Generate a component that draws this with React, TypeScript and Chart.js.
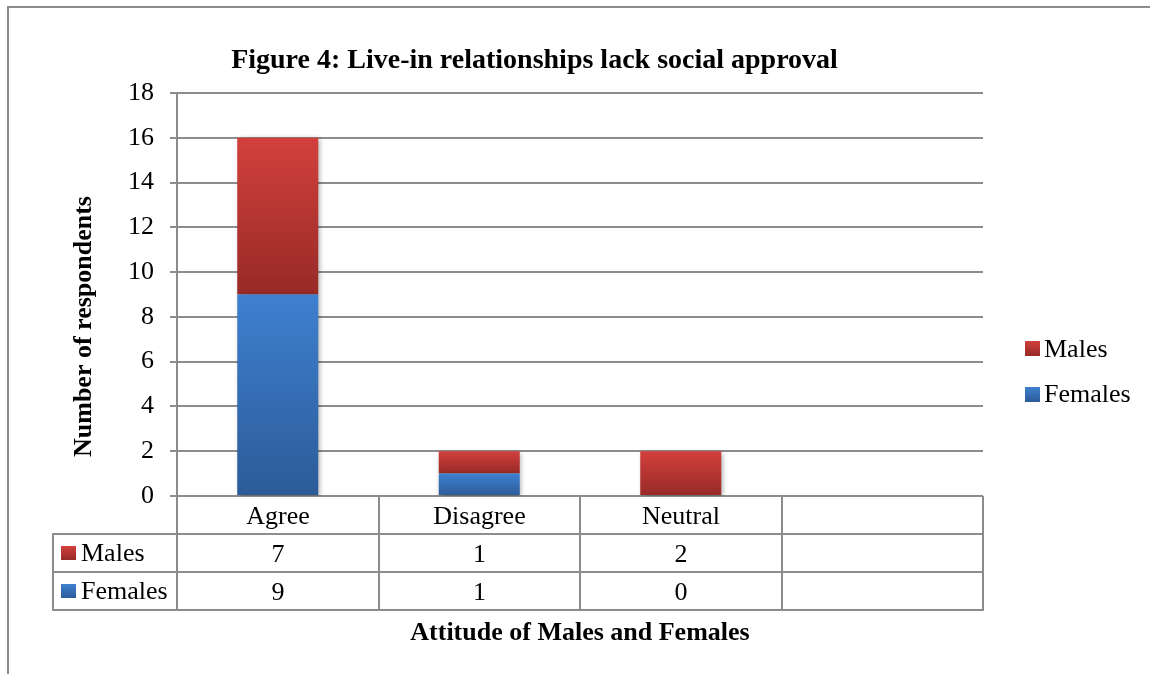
import React, { useEffect, useRef } from 'react';
import { Chart, registerables } from 'chart.js';

Chart.register(...registerables);

// Chart data
const categories = ['Agree', 'Disagree', 'Neutral', ''];
const males: (number | null)[] = [7, 1, 2, null];
const females: (number | null)[] = [9, 1, 0, null];
const yMin = 0;
const yMax = 18;
const yStep = 2;

const chartTitle = 'Figure 4: Live-in relationships lack social approval';
const yTitle = 'Number of respondents';
const xTitle = 'Attitude of Males and Females';

const W = 1150;
const H = 674;
const SERIF = '"Liberation Serif", "Times New Roman", Times, serif';
const LINE = '#8c8c8c';

// top / bottom colours of the vertical gradient on each series
const maleColors = ['#d2403c', '#972a27'];
const femaleColors = ['#3e80d0', '#2c5b98'];

function gradientFill(colors: string[], below: (number | null)[] | null) {
  return (ctx: any) => {
    const chart = ctx.chart;
    const y = chart.scales && chart.scales.y;
    if (!y || ctx.type !== 'data') return colors[0];
    const i = ctx.dataIndex;
    const base = below ? below[i] ?? 0 : 0;
    const v = ctx.raw ?? 0;
    const top = y.getPixelForValue(base + v);
    const bottom = y.getPixelForValue(base);
    if (!isFinite(top) || !isFinite(bottom) || Math.abs(bottom - top) < 0.5) return colors[0];
    const g = chart.ctx.createLinearGradient(0, top, 0, bottom);
    g.addColorStop(0, colors[0]);
    g.addColorStop(1, colors[1]);
    return g;
  };
}

function keySquare(c: CanvasRenderingContext2D, colors: string[], x: number, y: number, w: number, h: number) {
  const g = c.createLinearGradient(0, y, 0, y + h);
  g.addColorStop(0, colors[0]);
  g.addColorStop(1, colors[1]);
  c.fillStyle = g;
  c.fillRect(x, y, w, h);
}

const decorations = {
  id: 'decorations',
  beforeDatasetsDraw(chart: any) {
    const c = chart.ctx;
    c.save();
    c.shadowColor = 'rgba(0,0,0,0.35)';
    c.shadowBlur = 5;
    c.shadowOffsetX = 1.5;
    c.shadowOffsetY = 1.5;
  },
  afterDatasetsDraw(chart: any) {
    chart.ctx.restore();
  },
  afterDraw(chart: any) {
    const c: CanvasRenderingContext2D = chart.ctx;
    const area = chart.chartArea;
    const xs = chart.scales.x;
    c.save();

    // outer frame
    c.strokeStyle = LINE;
    c.lineWidth = 2;
    c.beginPath();
    c.moveTo(8, H);
    c.lineTo(8, 7);
    c.lineTo(W, 7);
    c.stroke();

    // chart title
    c.fillStyle = '#000';
    c.textAlign = 'center';
    c.textBaseline = 'alphabetic';
    c.font = `bold 28px ${SERIF}`;
    c.fillText(chartTitle, (area.left + area.right) / 2 + 0.5 - 46, 68);

    // y-axis title
    c.save();
    c.translate(91, (area.top + area.bottom) / 2 + 32);
    c.rotate(-Math.PI / 2);
    c.font = `bold 26px ${SERIF}`;
    c.fillText(yTitle, 0, 0);
    c.restore();

    // data table below the axis
    const n = categories.length;
    const step = xs.getPixelForValue(1) - xs.getPixelForValue(0);
    const edges: number[] = [];
    for (let i = 0; i <= n; i++) edges.push(Math.round(xs.getPixelForValue(0) - step / 2 + i * step));
    const rowH = 38;
    const r0 = Math.round(area.bottom);
    const r1 = r0 + rowH;
    const r2 = r1 + rowH;
    const r3 = r2 + rowH;
    const tableLeft = 53;

    c.strokeStyle = LINE;
    c.lineWidth = 2;
    c.beginPath();
    [r1, r2, r3].forEach((y) => {
      c.moveTo(tableLeft - 1, y);
      c.lineTo(edges[n] + 1, y);
    });
    edges.forEach((x) => {
      c.moveTo(x, r0);
      c.lineTo(x, r3);
    });
    c.moveTo(tableLeft, r1);
    c.lineTo(tableLeft, r3);
    c.stroke();

    c.font = `26px ${SERIF}`;
    c.fillStyle = '#000';
    c.textAlign = 'center';
    for (let i = 0; i < n; i++) {
      const cx = (edges[i] + edges[i + 1]) / 2;
      c.fillText(categories[i], cx, r0 + 28);
      if (males[i] != null) c.fillText(String(males[i]), cx, r1 + 28);
      if (females[i] != null) c.fillText(String(females[i]), cx, r2 + 28);
    }

    // series keys in the table
    c.textAlign = 'left';
    keySquare(c, maleColors, 61, r1 + 12, 15, 14);
    keySquare(c, femaleColors, 61, r2 + 12, 15, 14);
    c.fillStyle = '#000';
    c.fillText('Males', 81, r1 + 27);
    c.fillText('Females', 81, r2 + 27);

    // legend at the right
    keySquare(c, maleColors, 1025, 341, 15, 15);
    keySquare(c, femaleColors, 1025, 387, 15, 15);
    c.fillStyle = '#000';
    c.fillText('Males', 1044, 357);
    c.fillText('Females', 1044, 401.5);

    // x-axis title
    c.textAlign = 'center';
    c.font = `bold 26px ${SERIF}`;
    c.fillText(xTitle, (edges[0] + edges[n]) / 2, 640);

    c.restore();
  },
};

export default function App() {
  const ref = useRef<HTMLCanvasElement | null>(null);

  useEffect(() => {
    document.body.style.margin = '0';
    const canvas = ref.current;
    if (!canvas) return;
    const chart = new Chart(canvas, {
      type: 'bar',
      data: {
        labels: categories,
        datasets: [
          {
            label: 'Females',
            data: females,
            backgroundColor: gradientFill(femaleColors, null),
            borderWidth: 0,
            barPercentage: 1,
            categoryPercentage: 0.402,
          },
          {
            label: 'Males',
            data: males,
            backgroundColor: gradientFill(maleColors, females),
            borderWidth: 0,
            barPercentage: 1,
            categoryPercentage: 0.402,
          },
        ],
      },
      options: {
        responsive: false,
        animation: false,
        devicePixelRatio: 1,
        layout: { padding: { left: 0, right: 167, top: 93, bottom: 178 } },
        plugins: {
          legend: { display: false },
          title: { display: false },
          tooltip: { enabled: false },
        },
        scales: {
          x: {
            display: false,
            stacked: true,
          },
          y: {
            stacked: true,
            min: yMin,
            max: yMax,
            ticks: {
              stepSize: yStep,
              color: '#000',
              padding: 16,
              font: { family: SERIF, size: 26 },
            },
            grid: { color: LINE, lineWidth: 2, tickLength: 7, drawTicks: true },
            border: { color: LINE, width: 2 },
            afterFit(scale: any) {
              scale.width = 177;
            },
          },
        },
      },
      plugins: [decorations],
    });
    return () => chart.destroy();
  }, []);

  return (
    <div style={{ width: W, height: H, background: '#fff' }}>
      <canvas ref={ref} width={W} height={H} style={{ display: 'block', width: W, height: H }} />
    </div>
  );
}
